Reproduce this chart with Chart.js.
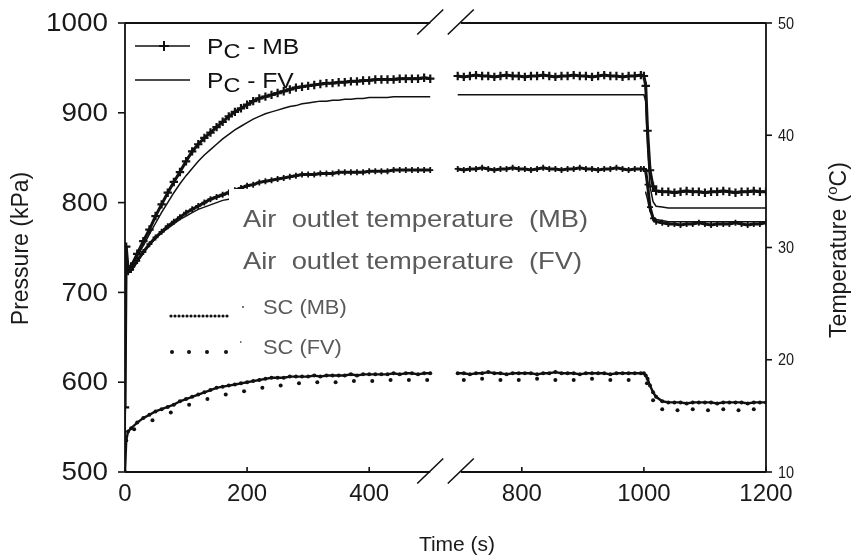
<!DOCTYPE html>
<html>
<head>
<meta charset="utf-8">
<script src="https://cdn.jsdelivr.net/npm/chart.js@4.4.1/dist/chart.umd.min.js"></script>
<style>
  html, body { margin: 0; padding: 0; background: #fff; }
  canvas { display: block; }
</style>
</head>
<body>
<canvas id="chart" width="854" height="559"></canvas>
<script>
// ---- Time axis (s); the axis is broken between ~500 s and ~700 s ----
const xTickTimes = [0, 200, 400, 800, 1000, 1200];
const breakFrom = 500;     // last time shown before the break
const breakTo = 700;       // first time shown after the break
const breakCut = 150;      // seconds removed from the axis by the break

// ---- Start-up period (s) ----
const timeLeft = [0, 2, 5, 10, 20, 30, 40, 50, 60, 70, 80, 90, 100, 110, 120, 130, 140, 150, 160, 170,
  180, 190, 200, 210, 220, 230, 240, 250, 260, 270, 280, 290, 300, 310, 320, 330, 340, 350, 360, 370,
  380, 390, 400, 410, 420, 430, 440, 450, 460, 470, 480, 490, 500];

// Condenser pressure, kPa
const pcMbLeft = [572, 751, 727, 729, 743, 757, 770, 785, 798, 811, 823, 834, 846, 857, 865, 872, 878, 884, 890, 896,
  901, 905, 909, 913, 916, 918, 920, 922, 924, 926, 928, 929, 930, 931, 932, 933, 933, 934, 934, 935,
  935, 936, 936, 937, 937, 937, 937, 938, 938, 938, 938, 939, 938];
const pcFvLeft = [505, 724, 727, 728, 740, 752, 765, 777, 789, 800, 811, 821, 830, 838, 846, 853, 859, 865, 871, 876,
  881, 885, 889, 893, 896, 899, 901, 903, 905, 907, 908, 910, 911, 912, 913, 913, 914, 914, 915, 915,
  916, 916, 917, 917, 917, 917, 918, 918, 918, 918, 918, 918, 918];

// Air outlet temperature, °C
const tMbLeft = [28.3, 27.9, 27.8, 28.0, 28.8, 29.6, 30.3, 30.9, 31.4, 31.9, 32.3, 32.7, 33.1, 33.4, 33.7, 34.0, 34.3, 34.5, 34.7, 34.9,
  35.1, 35.3, 35.5, 35.6, 35.8, 35.9, 36.0, 36.1, 36.2, 36.3, 36.4, 36.5, 36.5, 36.5, 36.6, 36.6, 36.6, 36.7, 36.7, 36.7,
  36.7, 36.7, 36.8, 36.8, 36.8, 36.8, 36.9, 36.9, 36.9, 36.9, 36.9, 36.9, 36.9];
const tFvLeft = [28.1, 27.8, 27.7, 27.9, 28.7, 29.5, 30.2, 30.8, 31.3, 31.7, 32.1, 32.5, 32.8, 33.1, 33.4, 33.6, 33.8, 34.0, 34.2, 34.3,
  34.4, 34.5, 34.6, 34.6, 34.7, 34.7, 34.8, 34.8, 34.8, 34.9, 34.9, 34.9, 34.9, 35.0, 35.0, 35.0, 35.0, 35.0, 35.0, 35.0,
  35.0, 35.0, 35.0, 35.0, 35.0, 35.0, 35.0, 35.0, 35.0, 35.0, 35.0, 35.0, 35.0];

// Subcooling, °C
const scMbLeft = [10.0, 12.8, 13.6, 13.9, 14.4, 14.8, 15.1, 15.4, 15.6, 15.8, 16.0, 16.3, 16.5, 16.7, 16.9, 17.1, 17.3, 17.5, 17.6, 17.7,
  17.8, 17.9, 18.0, 18.1, 18.2, 18.3, 18.4, 18.4, 18.4, 18.5, 18.5, 18.5, 18.5, 18.6, 18.5, 18.6, 18.6, 18.6, 18.6, 18.7,
  18.6, 18.7, 18.7, 18.7, 18.7, 18.7, 18.8, 18.7, 18.8, 18.8, 18.7, 18.8, 18.8];

// ---- Steady period and step change at 1000 s ----
const timeRight = [695, 705, 715, 725, 735, 745, 755, 765, 775, 785, 795, 805, 815, 825, 835, 845, 855, 865, 875, 885,
  895, 905, 915, 925, 935, 945, 955, 965, 975, 985, 995, 1000, 1003, 1006, 1010, 1015, 1020, 1030, 1040, 1050,
  1060, 1070, 1080, 1090, 1100, 1110, 1120, 1130, 1140, 1150, 1160, 1170, 1180, 1190, 1200];

const pcMbRight = [941, 940, 941, 942, 941, 941, 940, 941, 942, 941, 941, 940, 941, 941, 942, 941, 940, 941, 941, 942,
  941, 941, 940, 941, 942, 941, 941, 940, 941, 941, 942, 941, 930, 880, 836, 818, 813, 812, 812, 811,
  812, 813, 812, 812, 811, 812, 812, 813, 812, 811, 812, 812, 813, 812, 812];
const pcFvRight = [920, 920, 920, 920, 920, 920, 920, 920, 920, 920, 920, 920, 920, 920, 920, 920, 920, 920, 920, 920,
  920, 920, 920, 920, 920, 920, 920, 920, 920, 920, 920, 920, 913, 862, 818, 801, 796, 795, 794, 794,
  794, 794, 794, 794, 794, 794, 794, 794, 794, 794, 794, 794, 794, 794, 794];
const tMbRight = [37.0, 36.9, 37.0, 37.0, 37.1, 37.0, 36.9, 37.0, 37.0, 37.1, 37.0, 37.0, 36.9, 37.0, 37.1, 37.0, 37.0, 36.9, 37.0, 37.0,
  37.1, 37.0, 37.0, 36.9, 37.0, 37.0, 37.1, 37.0, 36.9, 37.0, 37.0, 37.0, 36.8, 35.6, 33.6, 32.6, 32.3, 32.2, 32.1, 32.1,
  32.0, 32.1, 32.1, 32.2, 32.1, 32.0, 32.1, 32.1, 32.1, 32.2, 32.1, 32.0, 32.1, 32.1, 32.2];
const tFvRight = [35.0, 35.0, 35.0, 35.0, 35.0, 35.0, 35.0, 35.0, 35.0, 35.0, 35.0, 35.0, 35.0, 35.0, 35.0, 35.0, 35.0, 35.0, 35.0, 35.0,
  35.0, 35.0, 35.0, 35.0, 35.0, 35.0, 35.0, 35.0, 35.0, 35.0, 35.0, 35.0, 34.9, 34.3, 33.2, 32.7, 32.5, 32.4, 32.3, 32.3,
  32.3, 32.3, 32.3, 32.3, 32.3, 32.3, 32.3, 32.3, 32.3, 32.3, 32.3, 32.3, 32.3, 32.3, 32.3];
const scMbRight = [18.8, 18.8, 18.7, 18.8, 18.8, 18.9, 18.8, 18.8, 18.7, 18.8, 18.8, 18.8, 18.8, 18.7, 18.8, 18.8, 18.9, 18.8, 18.8, 18.8,
  18.7, 18.8, 18.8, 18.8, 18.8, 18.7, 18.8, 18.8, 18.8, 18.8, 18.8, 18.8, 18.6, 18.3, 17.7, 17.1, 16.7, 16.3, 16.2, 16.2,
  16.2, 16.1, 16.2, 16.2, 16.2, 16.2, 16.1, 16.2, 16.2, 16.2, 16.2, 16.1, 16.2, 16.2, 16.2];

// Subcooling from the FV model, sampled sparsely
const scFvTime = [15, 45, 75, 105, 135, 165, 195, 225, 255, 285, 315, 345, 375, 405, 435, 465, 495,
  705, 735, 765, 795, 825, 855, 885, 915, 945, 975, 1005, 1015, 1030, 1055, 1080, 1105, 1130, 1155, 1180];
const scFvValues = [13.8, 14.6, 15.3, 16.0, 16.5, 16.9, 17.2, 17.5, 17.7, 17.9, 18.0, 18.0, 18.1, 18.1, 18.2, 18.2, 18.2,
  18.2, 18.3, 18.2, 18.2, 18.3, 18.2, 18.2, 18.3, 18.2, 18.2, 17.9, 16.4, 15.6, 15.5, 15.6, 15.5, 15.6, 15.5, 15.6];

// Position of a time value on the (broken) linear axis
function axisPos(t) { return t < 600 ? t : t - breakCut; }

function series(tL, vL, tR, vR) {
  const pts = tL.map((t, i) => ({ x: axisPos(t), y: vL[i] }));
  pts.push({ x: axisPos(520), y: null });              // gap across the break
  tR.forEach((t, i) => pts.push({ x: axisPos(t), y: vR[i] }));
  return pts;
}

const INK = '#111';
const LABEL = '#1a1a1a';
const FONT = '"Liberation Sans", Arial, Helvetica, sans-serif';

function drawText(ctx, s, x, y, o) {
  ctx.save();
  ctx.translate(x, y);
  if (o.rot) ctx.rotate(o.rot);
  ctx.scale(o.sx || 1, 1);
  ctx.font = o.size + 'px ' + FONT;
  ctx.fillStyle = o.color || INK;
  ctx.textAlign = o.align || 'left';
  ctx.textBaseline = o.baseline || 'alphabetic';
  ctx.fillText(s, 0, 0);
  ctx.restore();
}

function textWidth(ctx, s, size, sx) {
  ctx.save();
  ctx.font = size + 'px ' + FONT;
  const w = ctx.measureText(s).width * (sx || 1);
  ctx.restore();
  return w;
}

function cross(ctx, cx, cy, r) {
  ctx.beginPath();
  ctx.moveTo(cx - r, cy); ctx.lineTo(cx + r, cy);
  ctx.moveTo(cx, cy - r); ctx.lineTo(cx, cy + r);
  ctx.stroke();
}

// Frame, broken axes, ticks, labels and the in-plot legends
const decorations = {
  id: 'decorations',
  afterDatasetsDraw(chart) {
    const { ctx, chartArea: a, scales } = chart;
    const x = scales.x, y = scales.y, y1 = scales.y1;
    ctx.save();

    // legend panel for the temperature / subcooling series
    ctx.fillStyle = '#fff';
    ctx.fillRect(229, 189, 416, 176);

    const grey = '#5a5a5a';
    drawText(ctx, 'Air  outlet temperature  (MB)', 243, 227, { size: 24, color: grey, sx: 1.14 });
    drawText(ctx, 'Air  outlet temperature  (FV)', 243, 269, { size: 24, color: grey, sx: 1.14 });
    drawText(ctx, 'SC (MB)', 263, 314, { size: 21, color: grey, sx: 1.04 });
    drawText(ctx, 'SC (FV)', 263, 354, { size: 21, color: grey, sx: 1.04 });

    ctx.fillStyle = INK;
    for (let px = 171; px <= 227; px += 4) {
      ctx.beginPath(); ctx.arc(px, 316, 1.6, 0, Math.PI * 2); ctx.fill();
    }
    [172, 189, 207, 226].forEach(px => {
      ctx.beginPath(); ctx.arc(px, 352, 2, 0, Math.PI * 2); ctx.fill();
    });
    ctx.fillStyle = '#777';
    ctx.fillRect(242, 306, 2, 2);
    ctx.fillRect(240, 341, 1.5, 2);

    // pressure legend
    ctx.strokeStyle = INK;
    ctx.lineWidth = 1.6;
    ctx.beginPath(); ctx.moveTo(135, 46); ctx.lineTo(190, 46); ctx.stroke();
    ctx.lineWidth = 2; cross(ctx, 164, 46, 5);
    ctx.lineWidth = 1.3;
    ctx.beginPath(); ctx.moveTo(135, 80); ctx.lineTo(190, 80); ctx.stroke();
    [['MB', 54], ['FV', 88]].forEach(([tag, base]) => {
      let px = 207;
      drawText(ctx, 'P', px, base, { size: 22, sx: 1.12 });
      px += textWidth(ctx, 'P', 22, 1.12);
      drawText(ctx, 'C', px, base + 4, { size: 21, sx: 1.12 });
      px += textWidth(ctx, 'C', 21, 1.12);
      drawText(ctx, ' - ' + tag, px, base, { size: 22, sx: 1.12 });
    });

    // frame with the axis break
    const gx1 = x.getPixelForValue(axisPos(breakFrom));
    const gx2 = x.getPixelForValue(axisPos(breakTo));
    ctx.strokeStyle = INK;
    ctx.lineWidth = 1.8;
    ctx.beginPath();
    ctx.moveTo(a.left, a.top); ctx.lineTo(a.left, a.bottom);
    ctx.moveTo(a.right, a.top); ctx.lineTo(a.right, a.bottom);
    [a.top, a.bottom].forEach(py => {
      ctx.moveTo(a.left, py); ctx.lineTo(gx1, py);
      ctx.moveTo(gx2, py); ctx.lineTo(a.right, py);
    });
    ctx.stroke();
    ctx.lineWidth = 1.6;
    ctx.beginPath();
    [gx1, gx2].forEach(cx => {
      [a.top - 1, a.bottom - 1].forEach(cy => {
        ctx.moveTo(cx - 13, cy + 12.5); ctx.lineTo(cx + 13, cy - 12.5);
      });
    });
    ctx.stroke();

    // left axis: pressure
    ctx.lineWidth = 1.6;
    y.ticks.forEach(tk => {
      const py = y.getPixelForValue(tk.value);
      ctx.beginPath(); ctx.moveTo(a.left - 7, py); ctx.lineTo(a.left, py); ctx.stroke();
      drawText(ctx, String(tk.value), a.left - 17, py + 1, { size: 26, align: 'right', baseline: 'middle', sx: 1.07, color: LABEL });
    });
    // right axis: temperature
    y1.ticks.forEach(tk => {
      const py = y1.getPixelForValue(tk.value);
      ctx.beginPath(); ctx.moveTo(a.right, py); ctx.lineTo(a.right + 6, py); ctx.stroke();
      drawText(ctx, String(tk.value), a.right + 12, py + 1, { size: 17, baseline: 'middle', sx: 0.85, color: LABEL });
    });
    // bottom axis: time
    x.ticks.forEach((tk, i) => {
      const px = x.getPixelForValue(tk.value);
      ctx.beginPath(); ctx.moveTo(px, a.bottom); ctx.lineTo(px, a.bottom - 5); ctx.stroke();
      drawText(ctx, String(xTickTimes[i]), px, a.bottom + 29, { size: 24, align: 'center', color: LABEL });
    });

    // axis titles
    drawText(ctx, 'Pressure (kPa)', 22, (a.top + a.bottom) / 2 + 1, { size: 23, align: 'center', baseline: 'middle', rot: -Math.PI / 2, color: LABEL });
    drawText(ctx, 'Time (s)', 457, 545, { size: 21, align: 'center', baseline: 'middle', color: LABEL });

    // "Temperature (°C)" with a raised o
    const s1 = 'Temperature (', s2 = 'o', s3 = 'C)';
    const w1 = textWidth(ctx, s1, 23), w2 = textWidth(ctx, s2, 15), w3 = textWidth(ctx, s3, 23);
    const total = w1 + w2 + w3;
    ctx.save();
    ctx.translate(840, 250);
    ctx.rotate(-Math.PI / 2);
    drawText(ctx, s1, -total / 2, 0, { size: 23, baseline: 'middle', color: LABEL });
    drawText(ctx, s2, -total / 2 + w1, -7, { size: 15, baseline: 'middle', color: LABEL });
    drawText(ctx, s3, -total / 2 + w1 + w2, 0, { size: 23, baseline: 'middle', color: LABEL });
    ctx.restore();

    ctx.restore();
  }
};

new Chart(document.getElementById('chart').getContext('2d'), {
  type: 'line',
  data: {
    datasets: [
      {
        label: 'SC (FV)',
        data: scFvTime.map((t, i) => ({ x: axisPos(t), y: scFvValues[i] })),
        yAxisID: 'y1', showLine: false,
        pointRadius: 2, pointBackgroundColor: INK, pointBorderWidth: 0
      },
      {
        label: 'SC (MB)',
        data: series(timeLeft, scMbLeft, timeRight, scMbRight),
        yAxisID: 'y1', borderColor: INK, borderWidth: 2.4,
        pointRadius: 2, pointBackgroundColor: INK, pointBorderWidth: 0
      },
      {
        label: 'Air outlet temperature (FV)',
        data: series(timeLeft, tFvLeft, timeRight, tFvRight),
        yAxisID: 'y1', borderColor: INK, borderWidth: 1.5, pointRadius: 0
      },
      {
        label: 'Air outlet temperature (MB)',
        data: series(timeLeft, tMbLeft, timeRight, tMbRight),
        yAxisID: 'y1', borderColor: INK, borderWidth: 3,
        pointStyle: 'cross', pointRadius: 3, pointBorderColor: INK, pointBorderWidth: 1.8
      },
      {
        label: 'Pc - FV',
        data: series(timeLeft, pcFvLeft, timeRight, pcFvRight),
        yAxisID: 'y', borderColor: INK, borderWidth: 1.5, pointRadius: 0
      },
      {
        label: 'Pc - MB',
        data: series(timeLeft, pcMbLeft, timeRight, pcMbRight),
        yAxisID: 'y', borderColor: INK, borderWidth: 3,
        pointStyle: 'cross', pointRadius: 4.2, pointBorderColor: INK, pointBorderWidth: 2.2
      }
    ]
  },
  options: {
    responsive: false,
    animation: false,
    events: [],
    spanGaps: false,
    layout: { padding: { top: 23, left: 0, right: 0, bottom: 0 } },
    plugins: { legend: { display: false }, tooltip: { enabled: false } },
    scales: {
      x: {
        type: 'linear', min: 0, max: 1050,
        grid: { display: false }, border: { display: false },
        ticks: { display: false },
        afterBuildTicks: s => { s.ticks = xTickTimes.map(t => ({ value: axisPos(t) })); },
        afterFit: s => { s.height = 87; }
      },
      y: {
        position: 'left', min: 500, max: 1000,
        grid: { display: false }, border: { display: false },
        ticks: { display: false, stepSize: 100 },
        afterFit: s => { s.width = 125; }
      },
      y1: {
        position: 'right', min: 10, max: 50,
        grid: { display: false }, border: { display: false },
        ticks: { display: false, stepSize: 10 },
        afterFit: s => { s.width = 88; }
      }
    }
  },
  plugins: [decorations]
});
</script>
</body>
</html>
